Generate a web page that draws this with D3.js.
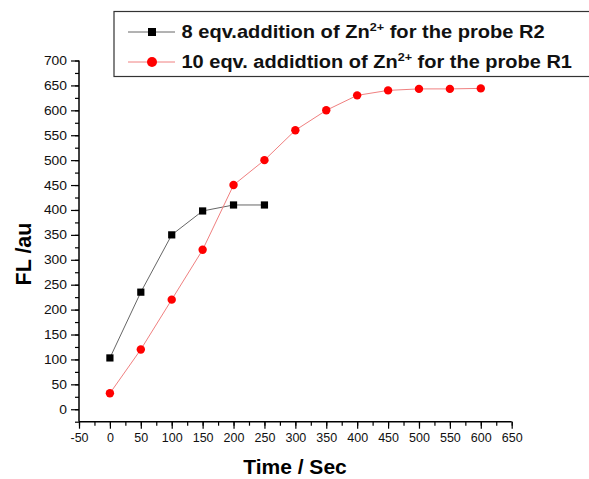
<!DOCTYPE html>
<html><head><meta charset="utf-8">
<script src="https://cdn.jsdelivr.net/npm/d3@7"></script>
<style>body{margin:0;background:#fff}svg{display:block}</style>
</head><body>
<svg id="c" width="589" height="479"></svg>
<script>
const timeR2 = [0, 50, 100, 150, 200, 250];
const flR2 = [103, 235, 350, 398, 410, 410];
const timeR1 = [0, 50, 100, 150, 200, 250, 300, 350, 400, 450, 500, 550, 600];
const flR1 = [32, 120, 220, 320, 450, 500, 560, 600, 630, 640, 643, 643, 644];
const xTicks = [-50, 0, 50, 100, 150, 200, 250, 300, 350, 400, 450, 500, 550, 600, 650];
const yTicks = [0, 50, 100, 150, 200, 250, 300, 350, 400, 450, 500, 550, 600, 650, 700];
const seriesNames = ["8 eqv.addition of Zn", "10 eqv. addidtion of Zn"];
const seriesTails = [" for the probe R2", " for the probe R1"];

const svg = d3.select("#c");
const x = d3.scaleLinear().domain([-50, 650]).range([79, 511.7]);
const y = d3.scaleLinear().domain([-25, 700]).range([421.7, 60.5]);
const font = "'Liberation Sans', Arial, sans-serif";

// x axis
const xMinor = d3.range(-50, 651, 25);
const gx = svg.append("g").attr("transform", `translate(0,${y(-25)})`);
gx.call(d3.axisBottom(x).tickValues(xMinor).tickSize(4).tickFormat(""));
gx.call(g => g.selectAll(".domain").remove());
const gx2 = svg.append("g").attr("transform", `translate(0,${y(-25)})`);
gx2.call(d3.axisBottom(x).tickValues(xTicks).tickSize(7).tickPadding(4).tickFormat(d => String(d)));
gx2.selectAll(".domain").attr("stroke", "#000").attr("stroke-width", 1.5).attr("d", `M${x(-50)},0H${x(650)}`);
gx2.selectAll("text").attr("font-family", font).attr("font-size", 12.5).attr("fill", "#111");

// y axis
const yMinor = d3.range(-25, 701, 25);
const gy = svg.append("g").attr("transform", `translate(${x(-50)},0)`);
gy.call(d3.axisLeft(y).tickValues(yMinor).tickSize(4).tickFormat(""));
gy.call(g => g.selectAll(".domain").remove());
const gy2 = svg.append("g").attr("transform", `translate(${x(-50)},0)`);
gy2.call(d3.axisLeft(y).tickValues(yTicks).tickSize(8).tickPadding(4).tickFormat(d => String(d)));
gy2.selectAll(".domain").attr("stroke", "#000").attr("stroke-width", 1.5).attr("d", `M0,${y(-25)}V${y(700)}`);
gy2.selectAll("text").attr("font-family", font).attr("font-size", 12.5).attr("fill", "#111")
  .attr("textLength", d => String(d).length * 7.7).attr("lengthAdjust", "spacingAndGlyphs");
svg.selectAll(".tick line").attr("stroke", "#000").attr("stroke-width", 1.2);

// titles
svg.append("text").attr("x", 295).attr("y", 474).attr("text-anchor", "middle")
  .attr("font-family", font).attr("font-weight", "bold").attr("font-size", 21).text("Time / Sec");
svg.append("text").attr("transform", "translate(31,254) rotate(-90)").attr("text-anchor", "middle")
  .attr("font-family", font).attr("font-weight", "bold").attr("font-size", 21.5).text("FL /au");

// lines
const lineR2 = d3.line().x((d, i) => x(timeR2[i])).y(d => y(d));
const lineR1 = d3.line().x((d, i) => x(timeR1[i])).y(d => y(d));
svg.append("path").attr("d", lineR2(flR2)).attr("fill", "none").attr("stroke", "#666").attr("stroke-width", 1);
svg.append("path").attr("d", lineR1(flR1)).attr("fill", "none").attr("stroke", "#f08080").attr("stroke-width", 1);
svg.append("g").selectAll("rect").data(flR2).join("rect")
  .attr("x", (d, i) => x(timeR2[i]) - 3.6).attr("y", d => y(d) - 3.6)
  .attr("width", 7.2).attr("height", 7.2).attr("fill", "#000");
svg.append("g").selectAll("circle").data(flR1).join("circle")
  .attr("cx", (d, i) => x(timeR1[i])).attr("cy", d => y(d)).attr("r", 4.2).attr("fill", "#f00");

// legend
const lg = svg.append("g");
lg.append("rect").attr("x", 114).attr("y", 11.5).attr("width", 490).attr("height", 65)
  .attr("fill", "#fff").attr("stroke", "#333").attr("stroke-width", 1.2);
const rows = [
  {y: 32, color: "#666", mk: "sq", name: seriesNames[0], tail: seriesTails[0], w: 364},
  {y: 62, color: "#f08080", mk: "ci", name: seriesNames[1], tail: seriesTails[1], w: 391}
];
rows.forEach(r => {
  lg.append("line").attr("x1", 128).attr("x2", 175).attr("y1", r.y).attr("y2", r.y).attr("stroke", r.color).attr("stroke-width", 1);
  if (r.mk === "sq") lg.append("rect").attr("x", 148).attr("y", r.y - 4).attr("width", 8).attr("height", 8).attr("fill", "#000");
  else lg.append("circle").attr("cx", 152).attr("cy", r.y).attr("r", 5).attr("fill", "#f00");
  const g = lg.append("g");
  const t = g.append("text").attr("x", 0).attr("y", 0).attr("font-family", font)
    .attr("font-weight", "bold").attr("font-size", 17.5).attr("fill", "#111");
  t.append("tspan").text(r.name);
  t.append("tspan").attr("dy", -7).attr("font-size", 11).text("2+");
  t.append("tspan").attr("dy", 7).text(r.tail);
  const bw = t.node().getBBox().width;
  g.attr("transform", `translate(181.5,${r.y + 6}) scale(${r.w / bw},1)`);
});
</script>
</body></html>
